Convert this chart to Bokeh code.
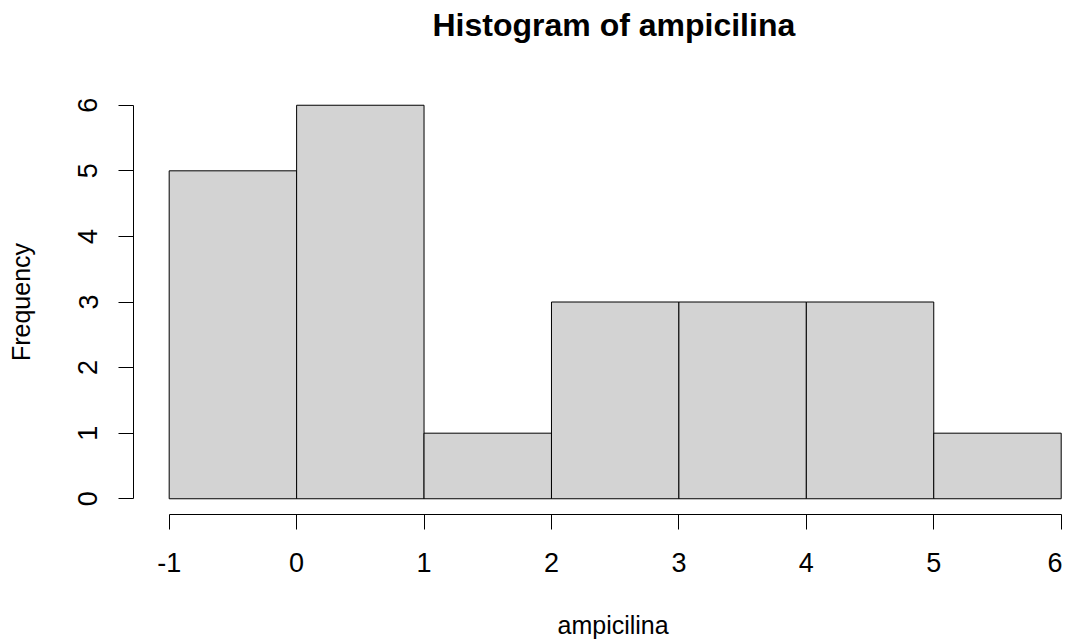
from bokeh.plotting import figure
from bokeh.models import FixedTicker, Title
from bokeh.embed import file_html
from bokeh.resources import INLINE

# Data
breaks = [-1, 0, 1, 2, 3, 4, 5, 6]
counts = [5, 6, 1, 3, 3, 3, 1]
x_ticks = [-1, 0, 1, 2, 3, 4, 5, 6]
x_tick_labels = ["-1", "0", "1", "2", "3", "4", "5", "6"]
y_ticks = [0, 1, 2, 3, 4, 5, 6]
y_tick_labels = ["0", "1", "2", "3", "4", "5", "6"]
title_text = "Histogram of ampicilina"
x_label = "ampicilina"
y_label = "Frequency"

FONT = "Liberation Sans"

W, H = 1062, 644
ML, MT, MB = 133, 89, 130
frame_w = W - ML
PX_PER_UNIT = 127.43

p = figure(
    width=W, height=H,
    x_range=(-1.28, -1.28 + frame_w / PX_PER_UNIT),
    y_range=(-0.24, 6.24),
    output_backend="svg", toolbar_location=None,
    min_border_left=ML, min_border_right=0,
    min_border_top=MT, min_border_bottom=MB,
)
p.outline_line_color = None
p.xgrid.visible = False
p.ygrid.visible = False
p.background_fill_color = "white"
p.border_fill_color = "white"

p.quad(left=breaks[:-1], right=breaks[1:], bottom=0, top=counts,
       fill_color="#D3D3D3", line_color="black", line_width=1)

for ax, ticks, labels in ((p.xaxis[0], x_ticks, x_tick_labels),
                          (p.yaxis[0], y_ticks, y_tick_labels)):
    ax.ticker = FixedTicker(ticks=ticks)
    ax.major_label_overrides = {t: l for t, l in zip(ticks, labels)}
    ax.bounds = (ticks[0], ticks[-1])
    ax.axis_line_color = "black"
    ax.axis_line_width = 1
    ax.major_tick_line_color = "black"
    ax.major_tick_in = 0
    ax.major_tick_out = 15
    ax.minor_tick_line_color = None
    ax.major_label_text_font = FONT
    ax.major_label_text_font_size = "27px"
    ax.major_label_text_color = "black"
    ax.axis_label_text_font = FONT
    ax.axis_label_text_font_size = "25px"
    ax.axis_label_text_font_style = "normal"
    ax.axis_label_text_color = "black"

p.xaxis[0].major_label_standoff = 23
p.yaxis[0].axis_label = y_label
p.yaxis[0].major_label_orientation = "vertical"
p.yaxis[0].major_label_standoff = 21
p.yaxis[0].axis_label_standoff = 41

# x label: a title below the axis (via a spacer), offset so that it is centred
# over R's plot region rather than over the visible frame
p.add_layout(Title(text=" ", text_font_size="1px", standoff=30), "below")
p.add_layout(Title(text=x_label, text_font=FONT, text_font_size="25px",
                   text_font_style="normal", text_color="black",
                   align="left", offset=424, standoff=2), "below")

# spacer between frame and title (innermost item of the "above" panel)
p.add_layout(Title(text=" ", text_font_size="1px", standoff=40), "above")

# main title (outermost)
p.title.text = title_text
p.title.text_font = FONT
p.title.text_font_size = "32px"
p.title.text_font_style = "bold"
p.title.text_color = "black"
p.title.align = "left"
p.title.offset = 299
p.title.standoff = 8

open("out.html", "w").write(file_html(p, INLINE))
